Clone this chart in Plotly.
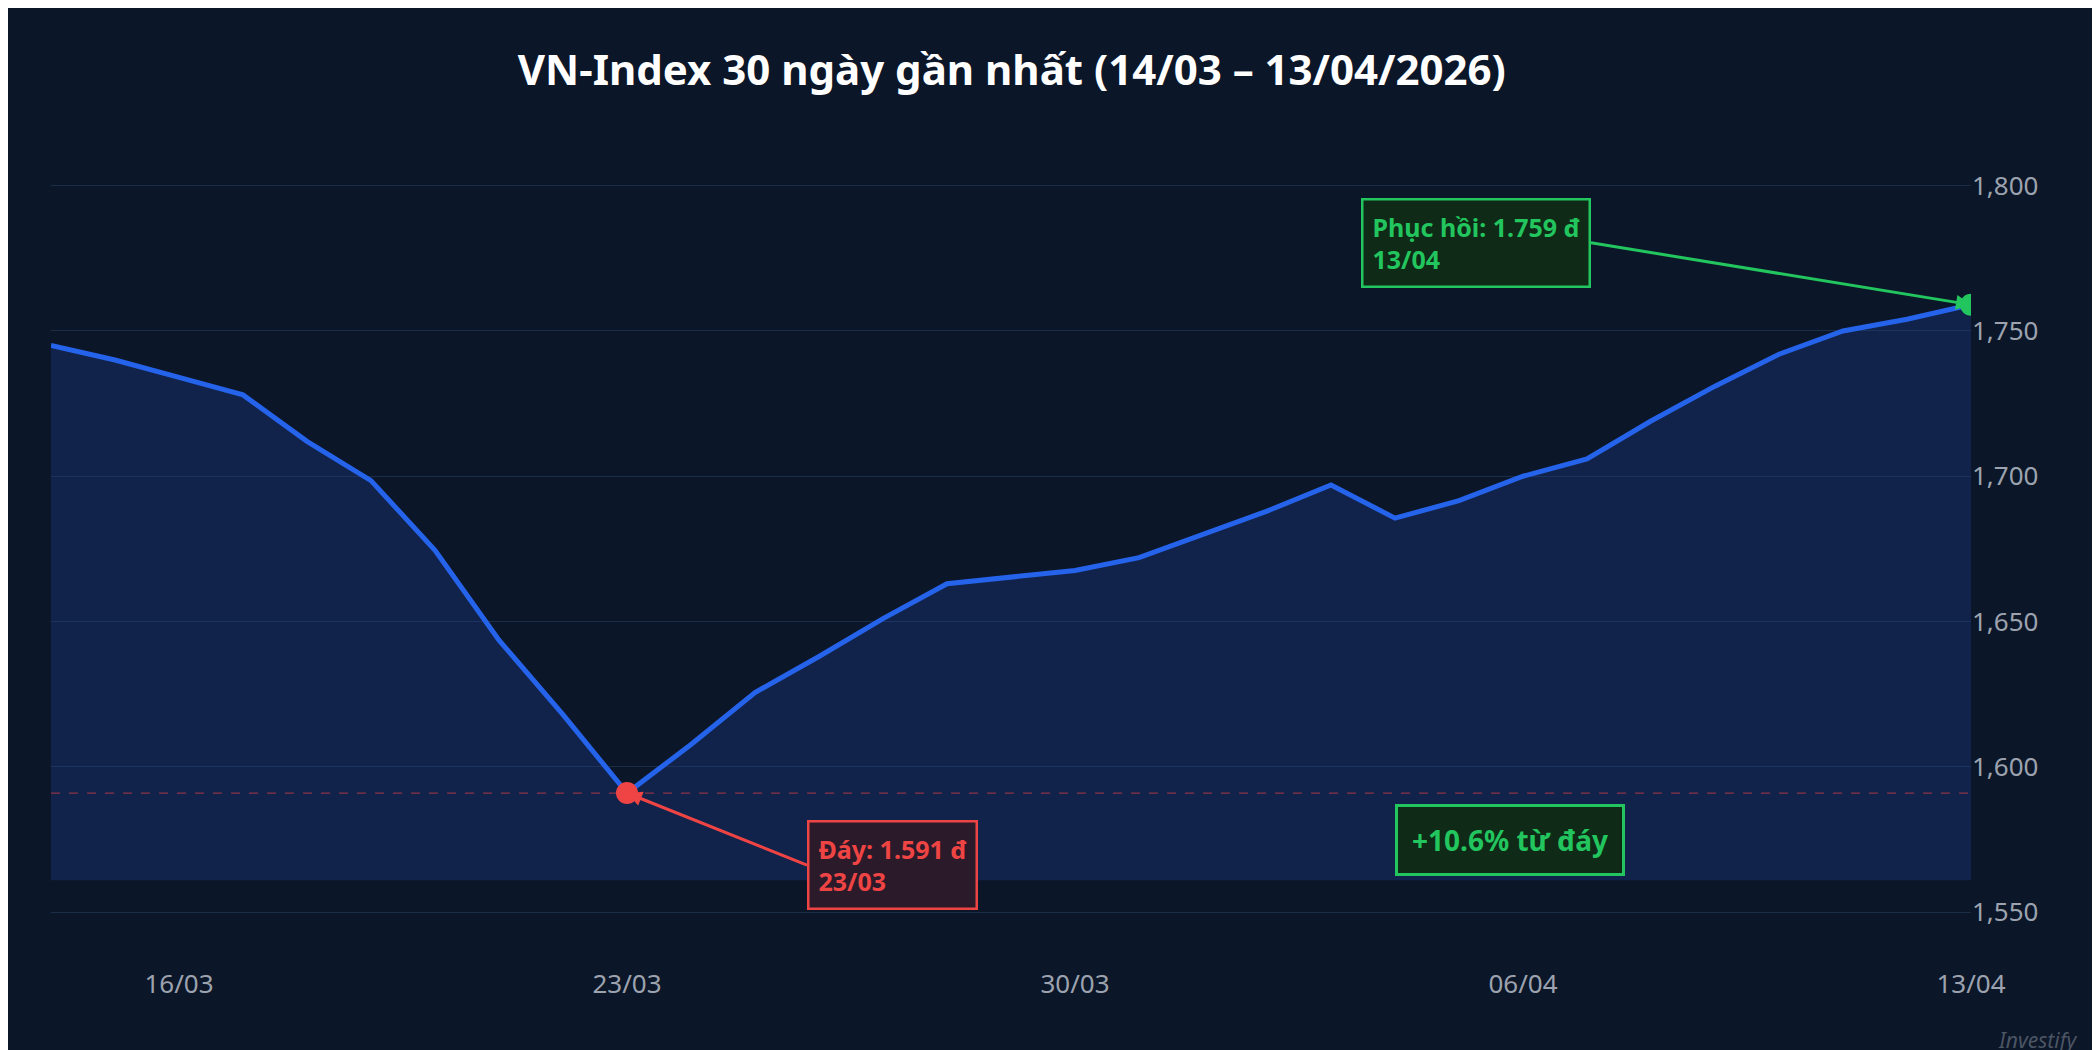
import plotly.graph_objects as go
import pandas as pd

dates = pd.date_range("2026-03-14", "2026-04-13", freq="D")
values = [1745, 1740, 1734, 1728, 1712, 1698.5, 1674.5, 1643.6, 1618, 1591,
          1607.7, 1625.6, 1638, 1651, 1663, 1665.3, 1667.6, 1672, 1680, 1688,
          1697, 1685.6, 1691.6, 1700, 1706, 1719, 1731, 1742, 1750, 1754, 1759]
tick_dates = ["2026-03-16", "2026-03-23", "2026-03-30", "2026-04-06", "2026-04-13"]
tick_labels = ["16/03", "23/03", "30/03", "06/04", "13/04"]
base = 1561
low_date, low_val = "2026-03-23", 1591
high_date, high_val = "2026-04-13", 1759

BG = "#0b1628"
fig = go.Figure()
fig.add_trace(go.Scatter(x=dates, y=[base]*len(dates), mode="lines",
                         line=dict(width=0), hoverinfo="skip", showlegend=False))
fig.add_trace(go.Scatter(x=dates, y=values, mode="lines", fill="tonexty",
                         fillcolor="rgba(30,60,140,0.35)",
                         line=dict(color="#2563eb", width=5), showlegend=False))
fig.add_shape(type="line", xref="paper", x0=0, x1=1, y0=low_val, y1=low_val,
              line=dict(color="rgba(239,68,68,0.55)", width=1.3, dash="dash"))
fig.add_trace(go.Scatter(x=[low_date], y=[low_val], mode="markers",
                         marker=dict(color="#ef4444", size=22), showlegend=False))
fig.add_trace(go.Scatter(x=[high_date], y=[high_val], mode="markers",
                         marker=dict(color="#22c55e", size=22), showlegend=False))

fig.add_annotation(x=low_date, y=low_val, text="<b>Đáy: 1.591 đ<br>23/03</b>", showarrow=True,
                   arrowhead=2, arrowcolor="#ef4444", arrowwidth=3,
                   ax=180, ay=72, xanchor="left", align="left",
                   font=dict(color="#ef4444", size=25, family="Noto Sans"),
                   bgcolor="#2a1a2a", bordercolor="#ef4444", borderwidth=2.5, borderpad=9)
fig.add_annotation(x=high_date, y=high_val, text="<b>Phục hồi: 1.759 đ<br>13/04</b>", showarrow=True,
                   arrowhead=2, arrowcolor="#22c55e", arrowwidth=3,
                   ax=-380, ay=-62, xanchor="right", align="left",
                   font=dict(color="#22c55e", size=25, family="Noto Sans"),
                   bgcolor="#0f2a16", bordercolor="#22c55e", borderwidth=2.5, borderpad=9)
fig.add_annotation(x=0.82, xref="paper", y=1575, text="<b>+10.6% từ đáy</b>", showarrow=False,
                   font=dict(color="#22c55e", size=28, family="Noto Sans"),
                   bgcolor="#0f2a16", bordercolor="#22c55e", borderwidth=3, borderpad=14)
fig.add_annotation(x=1.0, xref="paper", y=-0.07, yref="paper", xanchor="left", yanchor="top",
                   text="<i>Investify</i>", showarrow=False, xshift=25,
                   font=dict(color="#4b5563", size=21, family="Noto Sans"))

fig.update_layout(
    width=2100, height=1050, paper_bgcolor=BG, plot_bgcolor=BG,
    margin=dict(l=43, r=137, t=134, b=92),
    title=dict(text="<b>VN-Index 30 ngày gần nhất (14/03 – 13/04/2026)</b>", x=0.478, xanchor="center",
               y=0.955, font=dict(color="white", size=42, family="Noto Sans")),
    font=dict(family="Noto Sans"),
    xaxis=dict(range=["2026-03-14", "2026-04-13"], tickvals=tick_dates, ticktext=tick_labels,
               showgrid=False, zeroline=False, tickfont=dict(color="#9ca3af", size=26), ticklen=0),
    yaxis=dict(range=[1531.5, 1815], side="right", tickvals=[1550, 1600, 1650, 1700, 1750, 1800],
               tickformat=",", gridcolor="#1c2d47", zeroline=False,
               tickfont=dict(color="#9ca3af", size=26)),
)
fig.write_html("out.html")
